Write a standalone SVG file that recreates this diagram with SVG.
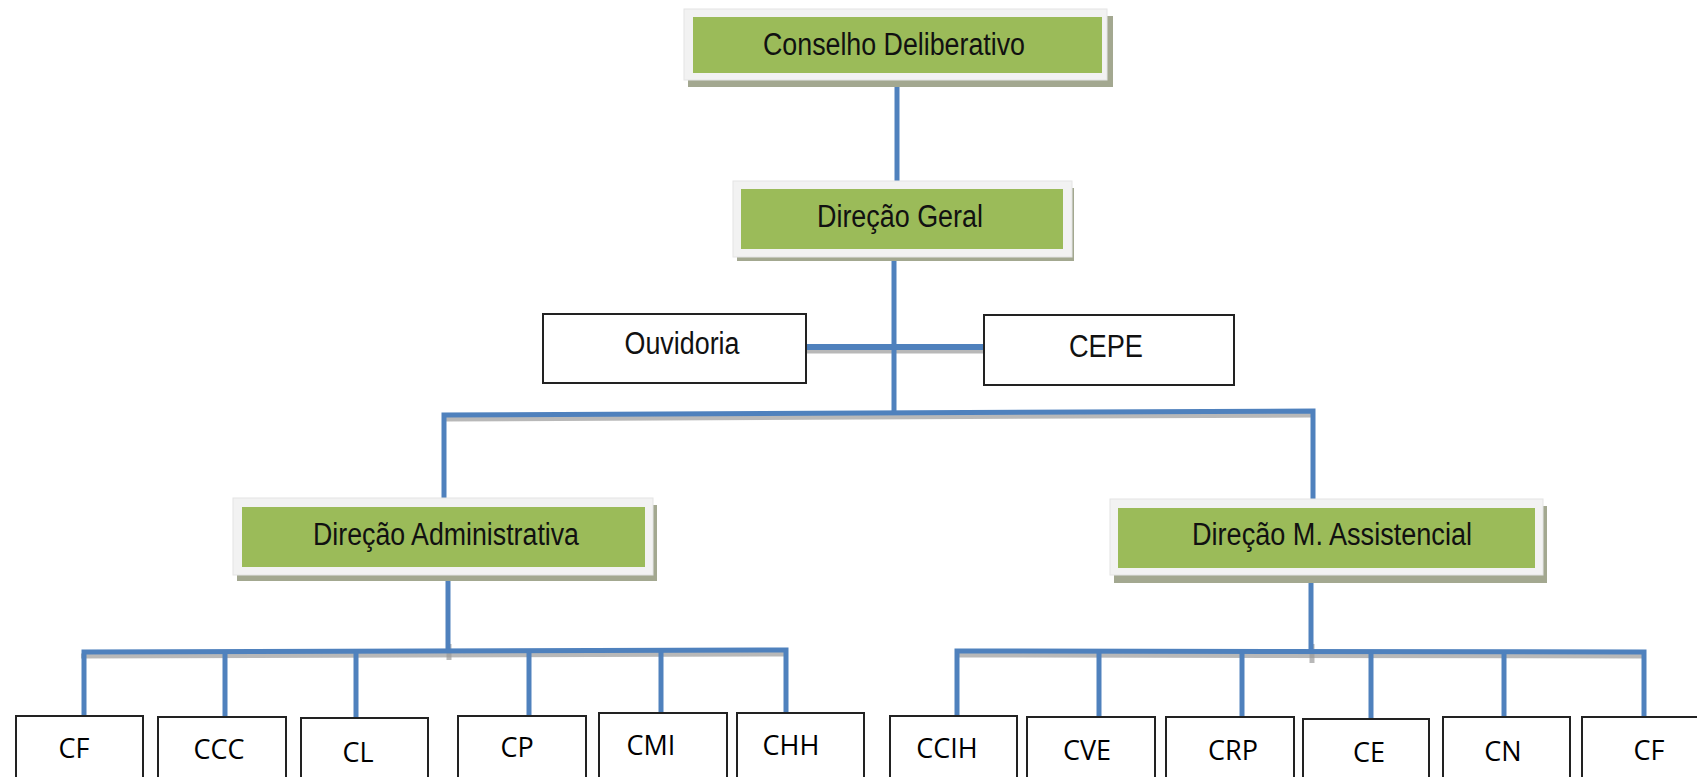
<svg xmlns="http://www.w3.org/2000/svg" width="1697" height="777" viewBox="0 0 1697 777">
<style>
.shadow{fill:#a3a890}
.frame{fill:#f2f2f2;stroke:#e4e4e4;stroke-width:1}
.green{fill:#9bbb59}
.box{fill:#ffffff;stroke:#222222;stroke-width:2}
.t1{font-family:"Liberation Sans",Arial,sans-serif;font-size:31px;fill:#111111;text-anchor:middle}
.t2{font-family:"Open Sans","Noto Sans",sans-serif;font-size:27px;fill:#000000;text-anchor:middle}
.ln{fill:none;stroke:#4f81bd;stroke-width:5;stroke-linejoin:miter;stroke-linecap:butt}
.lns{fill:none;stroke:#9a9a9a;stroke-width:5;stroke-opacity:0.7}
</style>
<rect width="1697" height="777" fill="#ffffff"/>
<g id="connectors">
<g transform="translate(1,4)">
<path class="lns" d="M80,652 L786,650"/>
<path class="lns" d="M955,651 L1644,652"/>
<path class="lns" d="M444,415 L1313,411"/>
<path class="lns" d="M448,640 L448,656"/>
<path class="lns" d="M1311,640 L1311,659"/>
<path class="lns" d="M806,347 L984,347"/>
</g>
<path class="ln" d="M897,80 L897,181"/>
<path class="ln" d="M894,257 L894,414"/>
<path class="ln" d="M806,347 L984,347" style="stroke-width:6"/>
<path class="ln" d="M444,498 L444,415 L1313,411 L1313,499"/>
<path class="ln" d="M448,575 L448,652"/>
<path class="ln" d="M1311,575 L1311,652"/>
<path class="ln" d="M84,716 L84,652 L786,650 L786,713"/>
<path class="ln" d="M225,651 L225,717"/>
<path class="ln" d="M356,651 L356,718"/>
<path class="ln" d="M529,650 L529,716"/>
<path class="ln" d="M661,650 L661,713"/>
<path class="ln" d="M957,716 L957,651 L1644,652 L1644,727"/>
<path class="ln" d="M1099,651 L1099,717"/>
<path class="ln" d="M1242,651 L1242,723"/>
<path class="ln" d="M1371,651 L1371,719"/>
<path class="ln" d="M1504,652 L1504,717"/>
</g>
<g id="conselho">
<rect class="shadow" x="688" y="16" width="425" height="71"/>
<rect class="frame" x="684" y="9" width="423" height="71"/>
<rect class="green" x="693" y="17" width="409" height="56"/>
<text class="t1" x="894" y="55" textLength="262" lengthAdjust="spacingAndGlyphs">Conselho Deliberativo</text>
</g>
<g id="direcao-geral">
<rect class="shadow" x="737" y="188" width="337" height="73"/>
<rect class="frame" x="733" y="181" width="339" height="76"/>
<rect class="green" x="741" y="189" width="322" height="60"/>
<text class="t1" x="900" y="227" textLength="166" lengthAdjust="spacingAndGlyphs">Direção Geral</text>
</g>
<g id="ouvidoria">
<rect class="box" x="543" y="314" width="263" height="69"/>
<text class="t1" x="682" y="354" textLength="115" lengthAdjust="spacingAndGlyphs">Ouvidoria</text>
</g>
<g id="cepe">
<rect class="box" x="984" y="315" width="250" height="70"/>
<text class="t1" x="1106" y="357" textLength="74" lengthAdjust="spacingAndGlyphs">CEPE</text>
</g>
<g id="direcao-administrativa">
<rect class="shadow" x="237" y="505" width="420" height="76"/>
<rect class="frame" x="233" y="498" width="420" height="77"/>
<rect class="green" x="242" y="507" width="403" height="60"/>
<text class="t1" x="446" y="545" textLength="266" lengthAdjust="spacingAndGlyphs">Direção Administrativa</text>
</g>
<g id="direcao-assistencial">
<rect class="shadow" x="1114" y="506" width="433" height="77"/>
<rect class="frame" x="1110" y="499" width="433" height="76"/>
<rect class="green" x="1118" y="508" width="417" height="60"/>
<text class="t1" x="1332" y="545" textLength="280" lengthAdjust="spacingAndGlyphs">Direção M. Assistencial</text>
</g>
<g id="cf1"><rect class="box" x="16" y="716" width="127" height="100"/><text class="t2" x="74" y="758">CF</text></g>
<g id="ccc"><rect class="box" x="158" y="717" width="128" height="100"/><text class="t2" x="219" y="759">CCC</text></g>
<g id="cl"><rect class="box" x="301" y="718" width="127" height="100"/><text class="t2" x="358" y="762">CL</text></g>
<g id="cp"><rect class="box" x="458" y="716" width="128" height="100"/><text class="t2" x="517" y="757">CP</text></g>
<g id="cmi"><rect class="box" x="599" y="713" width="128" height="100"/><text class="t2" x="651" y="755">CMI</text></g>
<g id="chh"><rect class="box" x="737" y="713" width="127" height="100"/><text class="t2" x="791" y="755">CHH</text></g>
<g id="ccih"><rect class="box" x="890" y="716" width="127" height="100"/><text class="t2" x="947" y="758">CCIH</text></g>
<g id="cve"><rect class="box" x="1027" y="717" width="128" height="100"/><text class="t2" x="1087" y="760">CVE</text></g>
<g id="crp"><rect class="box" x="1166" y="717" width="128" height="100"/><text class="t2" x="1233" y="760">CRP</text></g>
<g id="ce"><rect class="box" x="1303" y="719" width="126" height="100"/><text class="t2" x="1369" y="762">CE</text></g>
<g id="cn"><rect class="box" x="1443" y="717" width="127" height="100"/><text class="t2" x="1503" y="761">CN</text></g>
<g id="cf2"><rect class="box" x="1582" y="717" width="128" height="100"/><text class="t2" x="1649" y="760">CF</text></g>
</svg>
